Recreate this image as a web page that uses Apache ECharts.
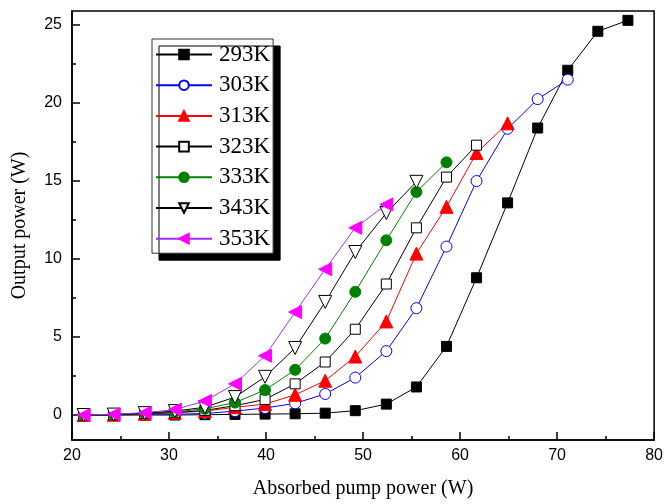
<!DOCTYPE html>
<html>
<head>
<meta charset="utf-8">
<script src="https://cdn.jsdelivr.net/npm/echarts@6/dist/echarts.min.js"></script>
<style>html,body{margin:0;padding:0;background:#fff}#c{width:666px;height:504px}</style>
</head>
<body>
<div id="c"></div>
<script>
const xVals = [21.2, 24.3, 27.5, 30.6, 33.7, 36.8, 39.9, 43.0, 46.1, 49.2, 52.4, 55.5, 58.6, 61.7, 64.9, 68.0, 71.1, 74.2, 77.3];
const names = ['293K', '303K', '313K', '323K', '333K', '343K', '353K'];
const v293 = [0, 0, 0, 0, 0.02, 0.04, 0.06, 0.08, 0.12, 0.28, 0.7, 1.8, 4.4, 8.8, 13.6, 18.4, 22.1, 24.6, 25.3];
const v303 = [0, 0, 0.05, 0.05, 0.1, 0.25, 0.45, 0.75, 1.35, 2.4, 4.1, 6.85, 10.8, 15.0, 18.35, 20.25, 21.5];
const v313 = [0, 0.02, 0.08, 0.15, 0.25, 0.5, 0.7, 1.3, 2.2, 3.75, 6.0, 10.35, 13.35, 16.8, 18.7];
const v323 = [0, 0.02, 0.1, 0.15, 0.3, 0.6, 1.0, 2.0, 3.4, 5.5, 8.4, 12.0, 15.25, 17.3];
const v333 = [0, 0.03, 0.12, 0.2, 0.4, 0.8, 1.6, 2.9, 4.9, 7.9, 11.2, 14.3, 16.2];
const v343 = [0, 0.03, 0.12, 0.25, 0.5, 1.15, 2.45, 4.3, 7.25, 10.45, 12.95, 14.95];
const v353 = [0, 0.05, 0.15, 0.35, 0.9, 2.0, 3.8, 6.6, 9.35, 12.0, 13.5];
const yMajor = [0, 5, 10, 15, 20, 25];
const yMinor = [2.5, 7.5, 12.5, 17.5, 22.5];

const values = [v293, v303, v313, v323, v333, v343, v353];
const styles = [
  {line: '#000', fill: '#000', border: '#000', symbol: 'rect', size: 10, rot: 0},
  {line: '#0000ff', fill: '#fff', border: '#0000ff', symbol: 'circle', size: 11, rot: 0},
  {line: '#ff0000', fill: '#ff0000', border: '#ff0000', symbol: 'triangle', size: 13, rot: 0},
  {line: '#000', fill: '#fff', border: '#000', symbol: 'rect', size: 10, rot: 0},
  {line: '#008000', fill: '#008000', border: '#008000', symbol: 'circle', size: 11, rot: 0},
  {line: '#000', fill: '#fff', border: '#000', symbol: 'triangle', size: 13, rot: 180},
  {line: '#9b30ff', fill: '#ff00ff', border: '#ff00ff', symbol: 'triangle', size: 13, rot: 90}
];

const series = names.map((n, k) => ({
  name: n,
  type: 'line',
  data: values[k].map((v, i) => [xVals[i], v]),
  symbol: styles[k].symbol,
  symbolSize: styles[k].size,
  symbolRotate: styles[k].rot,
  showAllSymbol: true,
  lineStyle: {color: styles[k].line, width: 1},
  itemStyle: {color: styles[k].fill, borderColor: styles[k].border, borderWidth: 1, opacity: 1},
  emphasis: {disabled: true},
  animation: false,
  z: 2 + k
}));

const chart = echarts.init(document.getElementById('c'));
chart.setOption({
  animation: false,
  grid: {left: 72, right: 10, top: 11, bottom: 63, show: true, borderColor: '#000', borderWidth: 1.5, backgroundColor: 'transparent'},
  legend: {
    orient: 'vertical', left: 152, top: 39,
    data: names,
    itemWidth: 56, itemHeight: 12, itemGap: 7.7,
    padding: [4, 3, 3, 3],
    backgroundColor: '#fff', borderColor: '#333', borderWidth: 1,
    shadowColor: '#000', shadowBlur: 0, shadowOffsetX: 7, shadowOffsetY: 7,
    textStyle: {fontFamily: 'Liberation Serif', fontSize: 23, color: '#000', padding: [0, 0, 0, 2]}
  },
  xAxis: {
    type: 'value', min: 20, max: 80, interval: 10,
    name: 'Absorbed pump power (W)', nameLocation: 'middle', nameGap: 39,
    nameTextStyle: {fontFamily: 'Liberation Serif', fontSize: 20, color: '#000'},
    axisLine: {show: true, onZero: false, lineStyle: {color: '#000', width: 1.5}},
    axisTick: {show: true, inside: true, length: 8, lineStyle: {color: '#000', width: 1.5}},
    minorTick: {show: true, splitNumber: 2, length: 4, lineStyle: {color: '#000', width: 1.5}},
    axisLabel: {fontFamily: 'Liberation Sans', fontSize: 16, color: '#000', margin: 8},
    splitLine: {show: false}
  },
  yAxis: [{
    type: 'value', min: -1.6, max: 25.9, position: 'left',
    name: 'Output power (W)', nameLocation: 'middle', nameGap: 42,
    nameTextStyle: {fontFamily: 'Liberation Serif', fontSize: 20, color: '#000'},
    axisLine: {show: true, onZero: false, lineStyle: {color: '#000', width: 1.5}},
    axisTick: {show: true, inside: true, length: 8, customValues: yMajor, lineStyle: {color: '#000', width: 1.5}},
    axisLabel: {customValues: yMajor, fontFamily: 'Liberation Sans', fontSize: 16, color: '#000', margin: 10},
    splitLine: {show: false}
  }, {
    type: 'value', min: -1.6, max: 25.9, position: 'left', offset: 0,
    axisLine: {show: false},
    axisTick: {show: true, inside: true, length: 4, customValues: yMinor, lineStyle: {color: '#000', width: 1.5}},
    axisLabel: {show: false},
    splitLine: {show: false}
  }],
  series: series
});
</script>
</body>
</html>
